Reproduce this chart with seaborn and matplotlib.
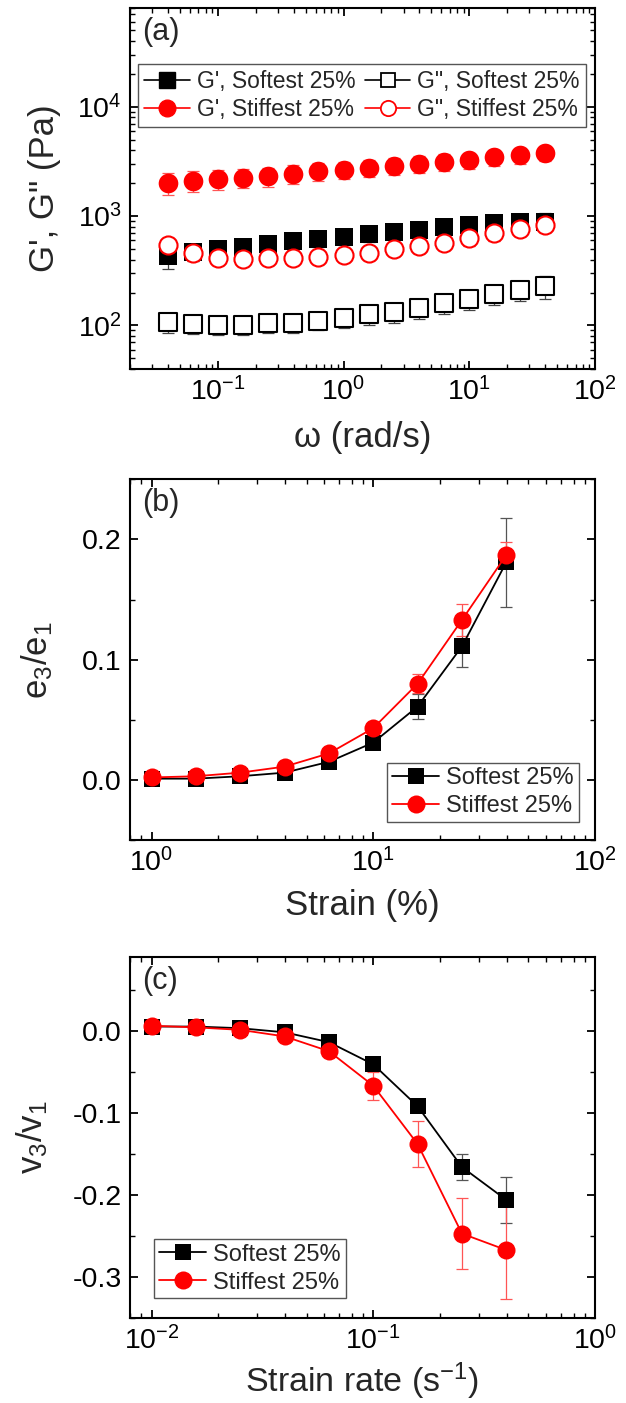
import numpy as np
import pandas as pd
import seaborn as sns
import matplotlib
matplotlib.use("Agg")
import matplotlib.pyplot as plt
from matplotlib.lines import Line2D
from matplotlib.ticker import LogLocator, MultipleLocator, NullFormatter, FormatStrFormatter

# (a) frequency sweep
omega = [0.0398, 0.0631, 0.1, 0.158, 0.251, 0.398, 0.631, 1.0, 1.585, 2.512,
         3.981, 6.31, 10.0, 15.85, 25.12, 39.81]
gp_soft = [428, 469, 497, 525, 552, 589, 623, 645, 687, 713, 748, 793, 832, 860, 880, 890]
gp_soft_err = [100, 80, 85, 85, 90, 95, 100, 100, 105, 110, 115, 125, 130, 140, 160, 180]
gpp_soft = [108, 103, 101, 101, 105, 105, 110, 116, 126, 134, 145, 160, 175, 195, 212, 228]
gpp_soft_err = [22, 20, 20, 20, 20, 20, 20, 22, 25, 28, 30, 33, 36, 40, 45, 55]
gp_stiff = [2015, 2115, 2190, 2240, 2320, 2440, 2560, 2655, 2770, 2870, 2995, 3125,
            3240, 3475, 3595, 3785]
gp_stiff_err = [450, 450, 450, 450, 460, 470, 480, 490, 500, 510, 530, 550, 560, 580, 600, 620]
gpp_stiff = [541, 456, 416, 407, 416, 416, 425, 440, 462, 497, 532, 572, 627, 697, 770, 832]
gpp_stiff_err = [40, 40, 40, 40, 45, 45, 45, 50, 55, 60, 70, 80, 90, 100, 110, 120]

# (b) strain sweep
strain = [1.0, 1.585, 2.512, 3.981, 6.31, 10.0, 15.85, 25.12, 39.81]
e_soft = [0.001, 0.001, 0.003, 0.006, 0.015, 0.031, 0.061, 0.111, 0.181]
e_soft_err = [0.001, 0.001, 0.002, 0.002, 0.003, 0.004, 0.010, 0.017, 0.037]
e_stiff = [0.002, 0.003, 0.006, 0.011, 0.022, 0.043, 0.080, 0.133, 0.187]
e_stiff_err = [0.001, 0.001, 0.002, 0.003, 0.003, 0.004, 0.008, 0.013, 0.011]

# (c) strain rate sweep
rate = [0.01, 0.01585, 0.02512, 0.03981, 0.0631, 0.1, 0.1585, 0.2512, 0.3981]
v_soft = [0.005, 0.005, 0.003, -0.002, -0.014, -0.041, -0.092, -0.166, -0.206]
v_soft_err = [0.002, 0.002, 0.002, 0.003, 0.004, 0.005, 0.006, 0.016, 0.028]
v_stiff = [0.006, 0.004, 0.001, -0.007, -0.025, -0.067, -0.138, -0.247, -0.267]
v_stiff_err = [0.002, 0.002, 0.003, 0.005, 0.006, 0.017, 0.028, 0.043, 0.059]

sns.set_theme(style="ticks")
plt.rcParams['font.family'] = ['Liberation Sans', 'DejaVu Sans']
plt.rcParams['mathtext.fontset'] = 'custom'
plt.rcParams['mathtext.rm'] = 'Liberation Sans'
plt.rcParams['mathtext.it'] = 'Liberation Sans:italic'
plt.rcParams['mathtext.default'] = 'regular'

RED = '#ff0000'
fig = plt.figure(figsize=(6.26, 14.03), dpi=100)
axa = fig.add_axes([0.2077, 0.737, 0.7428, 0.2573])
axb = fig.add_axes([0.2077, 0.4013, 0.7428, 0.2571])
axc = fig.add_axes([0.2077, 0.0604, 0.7428, 0.2577])


def style_axis(ax):
    for s in ax.spines.values():
        s.set_linewidth(1.5)
        s.set_color('black')
    ax.tick_params(which='both', direction='in', top=True, right=True,
                   labelsize=20.5, colors='black', pad=6)
    ax.tick_params(which='major', length=6, width=1.3)
    ax.tick_params(which='minor', length=3.5, width=1.0)


def errs(ax, x, y, e, color):
    ax.errorbar(x, y, yerr=e, fmt='none', ecolor=color, elinewidth=0.9,
                capsize=4, capthick=0.9, zorder=1)


def log_x(ax):
    ax.xaxis.set_major_locator(LogLocator(10, numticks=10))
    ax.xaxis.set_minor_locator(LogLocator(10, subs=np.arange(2, 10), numticks=20))
    ax.xaxis.set_minor_formatter(NullFormatter())


def boxed_legend(leg):
    leg.get_frame().set_linewidth(1.0)


# ---- (a)
df_a = pd.DataFrame({'w': omega, 'gp_soft': gp_soft, 'gpp_soft': gpp_soft,
                     'gp_stiff': gp_stiff, 'gpp_stiff': gpp_stiff})
errs(axa, omega, gp_soft, gp_soft_err, '#444444')
errs(axa, omega, gpp_soft, gpp_soft_err, '#444444')
errs(axa, omega, gp_stiff, gp_stiff_err, '#ff5555')
errs(axa, omega, gpp_stiff, gpp_stiff_err, '#ff5555')
sns.scatterplot(data=df_a, x='w', y='gpp_soft', marker='s', s=150, facecolor='white',
                edgecolor='black', linewidth=1.5, ax=axa, zorder=3)
sns.scatterplot(data=df_a, x='w', y='gp_soft', marker='s', s=150, color='black',
                edgecolor='black', linewidth=0, ax=axa, zorder=3)
sns.scatterplot(data=df_a, x='w', y='gpp_stiff', marker='o', s=170, facecolor='white',
                edgecolor=RED, linewidth=1.5, ax=axa, zorder=4)
sns.scatterplot(data=df_a, x='w', y='gp_stiff', marker='o', s=200, color=RED,
                edgecolor=RED, linewidth=0, ax=axa, zorder=4)
axa.set_xscale('log')
axa.set_yscale('log')
axa.set_xlim(0.02, 100)
axa.set_ylim(40, 8e4)
log_x(axa)
axa.yaxis.set_major_locator(LogLocator(10, numticks=10))
axa.yaxis.set_minor_locator(LogLocator(10, subs=np.arange(2, 10), numticks=20))
axa.yaxis.set_minor_formatter(NullFormatter())
style_axis(axa)
axa.set_xlabel('ω (rad/s)', fontsize=25)
axa.set_ylabel('G\', G" (Pa)', fontsize=25)
axa.xaxis.set_label_coords(0.5, -0.145)
axa.yaxis.set_label_coords(-0.148, 0.5)
axa.text(0.025, 0.975, '(a)', transform=axa.transAxes, fontsize=22, va='top', ha='left')
h_a = [
    Line2D([], [], color='black', marker='s', markersize=11, lw=1.2),
    Line2D([], [], color=RED, marker='o', markersize=12, lw=1.2),
    Line2D([], [], color='black', marker='s', markersize=10, markerfacecolor='white',
           markeredgewidth=1.3, lw=1.2),
    Line2D([], [], color=RED, marker='o', markersize=11, markerfacecolor='white',
           markeredgewidth=1.3, lw=1.2),
]
l_a = ["G', Softest 25%", "G', Stiffest 25%", 'G", Softest 25%', 'G", Stiffest 25%']
leg = axa.legend(h_a, l_a, ncol=2, loc='upper left', bbox_to_anchor=(0.018, 0.845),
                 fontsize=16.5, frameon=True, fancybox=False, framealpha=1,
                 edgecolor='#555555', handlelength=2.0, handletextpad=0.3,
                 columnspacing=0.4, borderpad=0.25, labelspacing=0.25, borderaxespad=0)
boxed_legend(leg)

# ---- (b)
df_b = pd.DataFrame({'strain': strain, 'soft': e_soft, 'stiff': e_stiff})
errs(axb, strain, e_soft, e_soft_err, '#555555')
errs(axb, strain, e_stiff, e_stiff_err, '#ff5555')
sns.lineplot(data=df_b, x='strain', y='soft', color='black', marker='s', markersize=11,
             markeredgewidth=0, linewidth=1.3, ax=axb, label='Softest 25%', zorder=3)
sns.lineplot(data=df_b, x='strain', y='stiff', color=RED, marker='o', markersize=13,
             markeredgewidth=0, linewidth=1.3, ax=axb, label='Stiffest 25%', zorder=4)
axb.set_xscale('log')
axb.set_xlim(0.8, 100)
axb.set_ylim(-0.05, 0.25)
log_x(axb)
axb.yaxis.set_major_locator(MultipleLocator(0.1))
axb.yaxis.set_minor_locator(MultipleLocator(0.05))
axb.yaxis.set_major_formatter(FormatStrFormatter('%.1f'))
style_axis(axb)
axb.set_xlabel('Strain (%)', fontsize=25)
axb.set_ylabel('e$_3$/e$_1$', fontsize=25)
axb.xaxis.set_label_coords(0.5, -0.135)
axb.yaxis.set_label_coords(-0.162, 0.5)
axb.text(0.025, 0.975, '(b)', transform=axb.transAxes, fontsize=22, va='top', ha='left')
leg = axb.legend(loc='lower right', bbox_to_anchor=(0.965, 0.05), fontsize=17,
                 frameon=True, fancybox=False, framealpha=1, edgecolor='#555555',
                 handlelength=2.0, handletextpad=0.3, borderpad=0.2, labelspacing=0.25,
                 borderaxespad=0)
boxed_legend(leg)

# ---- (c)
df_c = pd.DataFrame({'rate': rate, 'soft': v_soft, 'stiff': v_stiff})
errs(axc, rate, v_soft, v_soft_err, '#555555')
errs(axc, rate, v_stiff, v_stiff_err, '#ff5555')
sns.lineplot(data=df_c, x='rate', y='soft', color='black', marker='s', markersize=11,
             markeredgewidth=0, linewidth=1.3, ax=axc, label='Softest 25%', zorder=3)
sns.lineplot(data=df_c, x='rate', y='stiff', color=RED, marker='o', markersize=13,
             markeredgewidth=0, linewidth=1.3, ax=axc, label='Stiffest 25%', zorder=4)
axc.set_xscale('log')
axc.set_xlim(0.008, 1)
axc.set_ylim(-0.35, 0.09)
log_x(axc)
axc.yaxis.set_major_locator(MultipleLocator(0.1))
axc.yaxis.set_minor_locator(MultipleLocator(0.05))
axc.yaxis.set_major_formatter(FormatStrFormatter('%.1f'))
style_axis(axc)
axc.set_xlabel('Strain rate (s$^{-1}$)', fontsize=24.5)
axc.set_ylabel('v$_3$/v$_1$', fontsize=25)
axc.xaxis.set_label_coords(0.5, -0.118)
axc.yaxis.set_label_coords(-0.172, 0.5)
axc.text(0.025, 0.975, '(c)', transform=axc.transAxes, fontsize=22, va='top', ha='left')
leg = axc.legend(loc='lower left', bbox_to_anchor=(0.052, 0.055), fontsize=17,
                 frameon=True, fancybox=False, framealpha=1, edgecolor='#555555',
                 handlelength=2.0, handletextpad=0.3, borderpad=0.2, labelspacing=0.25,
                 borderaxespad=0)
boxed_legend(leg)

fig.savefig('out.png', dpi=100)
